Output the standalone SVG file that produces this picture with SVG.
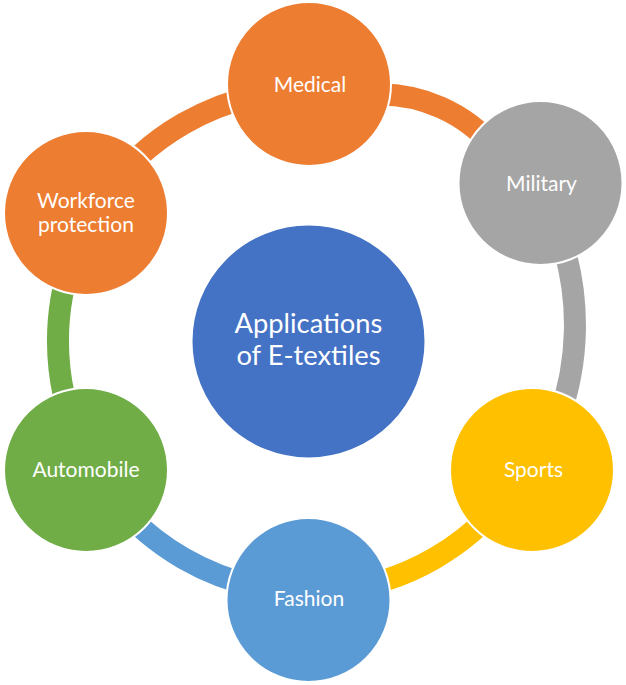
<svg xmlns="http://www.w3.org/2000/svg" width="626" height="685" viewBox="0 0 626 685">
  <style>
    .arc { fill: none; stroke-width: 22; stroke-linecap: butt; }
    .node { stroke: #ffffff; stroke-width: 2; }
    .lbl { fill: #ffffff; font-family: Lato, "Liberation Sans", sans-serif; font-size: 21px; text-anchor: middle; }
    .clbl { fill: #ffffff; font-family: Lato, "Liberation Sans", sans-serif; font-size: 27.3px; text-anchor: middle; }
  </style>
  <rect width="626" height="685" fill="#ffffff"/>
  <g id="connectors">
    <path class="arc" stroke="#ED7D31" d="M 103.4 197 A 251 251 0 0 1 287.1 91"/>
    <path class="arc" stroke="#ED7D31" d="M 374.7 94.6 A 150 150 0 0 1 494.8 148.1"/>
    <path class="arc" stroke="#A5A5A5" d="M 561.5 240 A 275 275 0 0 1 558.4 419"/>
    <path class="arc" stroke="#FFC000" d="M 514.6 485 A 251 251 0 0 1 330.9 591"/>
    <path class="arc" stroke="#5B9BD5" d="M 287.1 591 A 251 251 0 0 1 103.4 485"/>
    <path class="arc" stroke="#70AD47" d="M 81.5 447.1 A 251 251 0 0 1 81.5 234.9"/>
  </g>
  <g id="center">
    <circle class="node" cx="308.5" cy="341.5" r="117" fill="#4472C4"/>
    <text class="clbl" x="308.5" y="333">Applications</text>
    <text class="clbl" x="308.5" y="365">of E-textiles</text>
  </g>
  <g id="medical">
    <circle class="node" cx="309" cy="84" r="82" fill="#ED7D31"/>
    <text class="lbl" x="310" y="91.5">Medical</text>
  </g>
  <g id="military">
    <circle class="node" cx="540.5" cy="183" r="82" fill="#A5A5A5"/>
    <text class="lbl" x="541.5" y="190.5">Military</text>
  </g>
  <g id="sports">
    <circle class="node" cx="532" cy="470" r="82" fill="#FFC000"/>
    <text class="lbl" x="533.5" y="477">Sports</text>
  </g>
  <g id="fashion">
    <circle class="node" cx="308.5" cy="600" r="82" fill="#5B9BD5"/>
    <text class="lbl" x="309" y="606">Fashion</text>
  </g>
  <g id="automobile">
    <circle class="node" cx="86" cy="470" r="82" fill="#70AD47"/>
    <text class="lbl" x="86" y="477">Automobile</text>
  </g>
  <g id="workforce">
    <circle class="node" cx="86" cy="213" r="82" fill="#ED7D31"/>
    <text class="lbl" x="86" y="208">Workforce</text>
    <text class="lbl" x="86" y="231.5">protection</text>
  </g>
</svg>
